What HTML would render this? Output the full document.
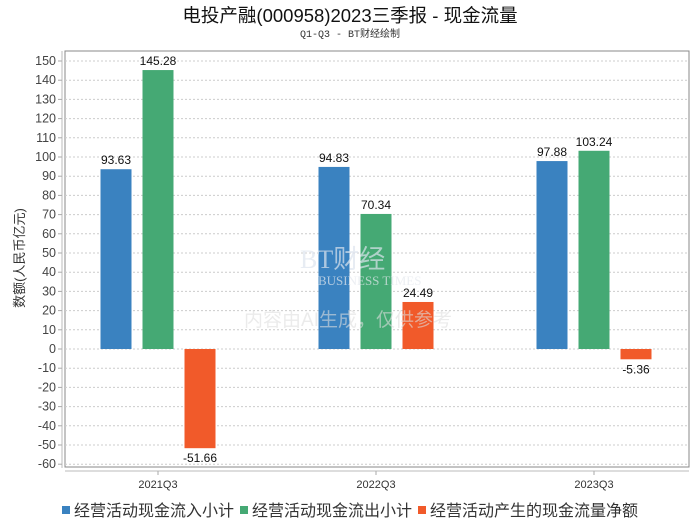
<!DOCTYPE html>
<html><head><meta charset="utf-8"><style>
body{margin:0;background:#fff;font-family:"Liberation Sans","Noto Sans CJK SC",sans-serif;}
</style></head><body>
<svg width="700" height="524" xmlns="http://www.w3.org/2000/svg" id="chart" font-family="Liberation Sans, Noto Sans CJK SC, sans-serif">
<rect width="700" height="524" fill="#fff"/>
<text x="350" y="22" text-anchor="middle" font-size="18.5" fill="#111">电投产融(000958)2023三季报 - 现金流量</text>
<text x="350" y="37" text-anchor="middle" font-size="10" fill="#333" font-family="Liberation Mono, Noto Sans CJK SC, monospace">Q1-Q3 - BT财经绘制</text>
<rect x="65" y="51" width="624" height="416" fill="none" stroke="#888"/>
<line x1="62" y1="51" x2="62" y2="468" stroke="#bbb"/>
<line x1="65" y1="471" x2="689" y2="471" stroke="#bbb"/>
<g id="grid"></g><g id="bars"></g>
<text x="300" y="268" font-size="26" fill="#dde4ee" fill-opacity="0.7" font-family="Liberation Serif, serif">BT财经</text>
<text x="318" y="285" font-size="13" fill="#e4e8ee" fill-opacity="0.7" font-family="Liberation Serif, serif">BUSINESS TIMES</text>
<text x="348" y="326" text-anchor="middle" font-size="19" fill="#ddd" fill-opacity="0.6">内容由AI生成，仅供参考</text>
<text transform="translate(24,258) rotate(-90)" text-anchor="middle" font-size="13" fill="#333">数额(人民币亿元)</text>
<g id="legend"></g>
</svg>
<script>
const categories=["2021Q3","2022Q3","2023Q3"];
const inflow=[93.63,94.83,97.88];
const outflow=[145.28,70.34,103.24];
const net=[-51.66,24.49,-5.36];
const seriesNames=["经营活动现金流入小计","经营活动现金流出小计","经营活动产生的现金流量净额"];
const colors=["#3a82c0","#45a974","#f15a2a"];
const yTicks=[150,140,130,120,110,100,90,80,70,60,50,40,30,20,10,0,-10,-20,-30,-40,-50,-60];
const NS="http://www.w3.org/2000/svg";
function y(v){return 349-v*1.92;}
function xc(i){return 158+218*i;}
function mk(t,a,p){const e=document.createElementNS(NS,t);for(const k in a)e.setAttribute(k,a[k]);p.appendChild(e);return e;}
const grid=document.getElementById('grid');
yTicks.forEach(v=>{
 const l=mk('line',{x1:65,x2:689,y1:y(v),y2:y(v),stroke:'#ccc','stroke-dasharray':'2,2'},grid);
 
 
 mk('line',{x1:58,x2:62,y1:y(v),y2:y(v),stroke:'#aaa'},grid);
 const t=mk('text',{x:56,y:y(v)+4,'text-anchor':'end','font-size':12.5,fill:'#444'},grid);
 t.textContent=v;
 
 
});
const bars=document.getElementById('bars');
const series=[inflow,outflow,net];
categories.forEach((c,i)=>{
 mk('line',{x1:xc(i),x2:xc(i),y1:471,y2:475,stroke:'#aaa'},bars);
 const t=mk('text',{x:xc(i),y:488,'text-anchor':'middle','font-size':11,fill:'#333'},bars);
 t.textContent=c;
 
 
 series.forEach((s,j)=>{
  const v=s[i],cx=xc(i)+(j-1)*42;
  const top=Math.min(y(v),y(0)),h=Math.abs(y(v)-y(0));
  const r=mk('rect',{x:cx-15.5,y:top,width:31,height:h,fill:colors[j]},bars);
  
  
  const lt=mk('text',{x:cx,y:v>=0?y(v)-5:y(v)+14,'text-anchor':'middle','font-size':12,fill:'#111'},bars);
  lt.textContent=v.toFixed(2);
  
  
 });
});
const lg=document.getElementById('legend');
const lx=[62,240,418];
seriesNames.forEach((n,j)=>{
 const g=mk('g',{},lg);
 
 
 mk('rect',{x:lx[j],y:506,width:8,height:8,fill:colors[j]},g);
 const t=mk('text',{x:lx[j]+12,y:516,'font-size':16,fill:'#333'},g);
 t.textContent=n;
});
</script>
</body></html>
